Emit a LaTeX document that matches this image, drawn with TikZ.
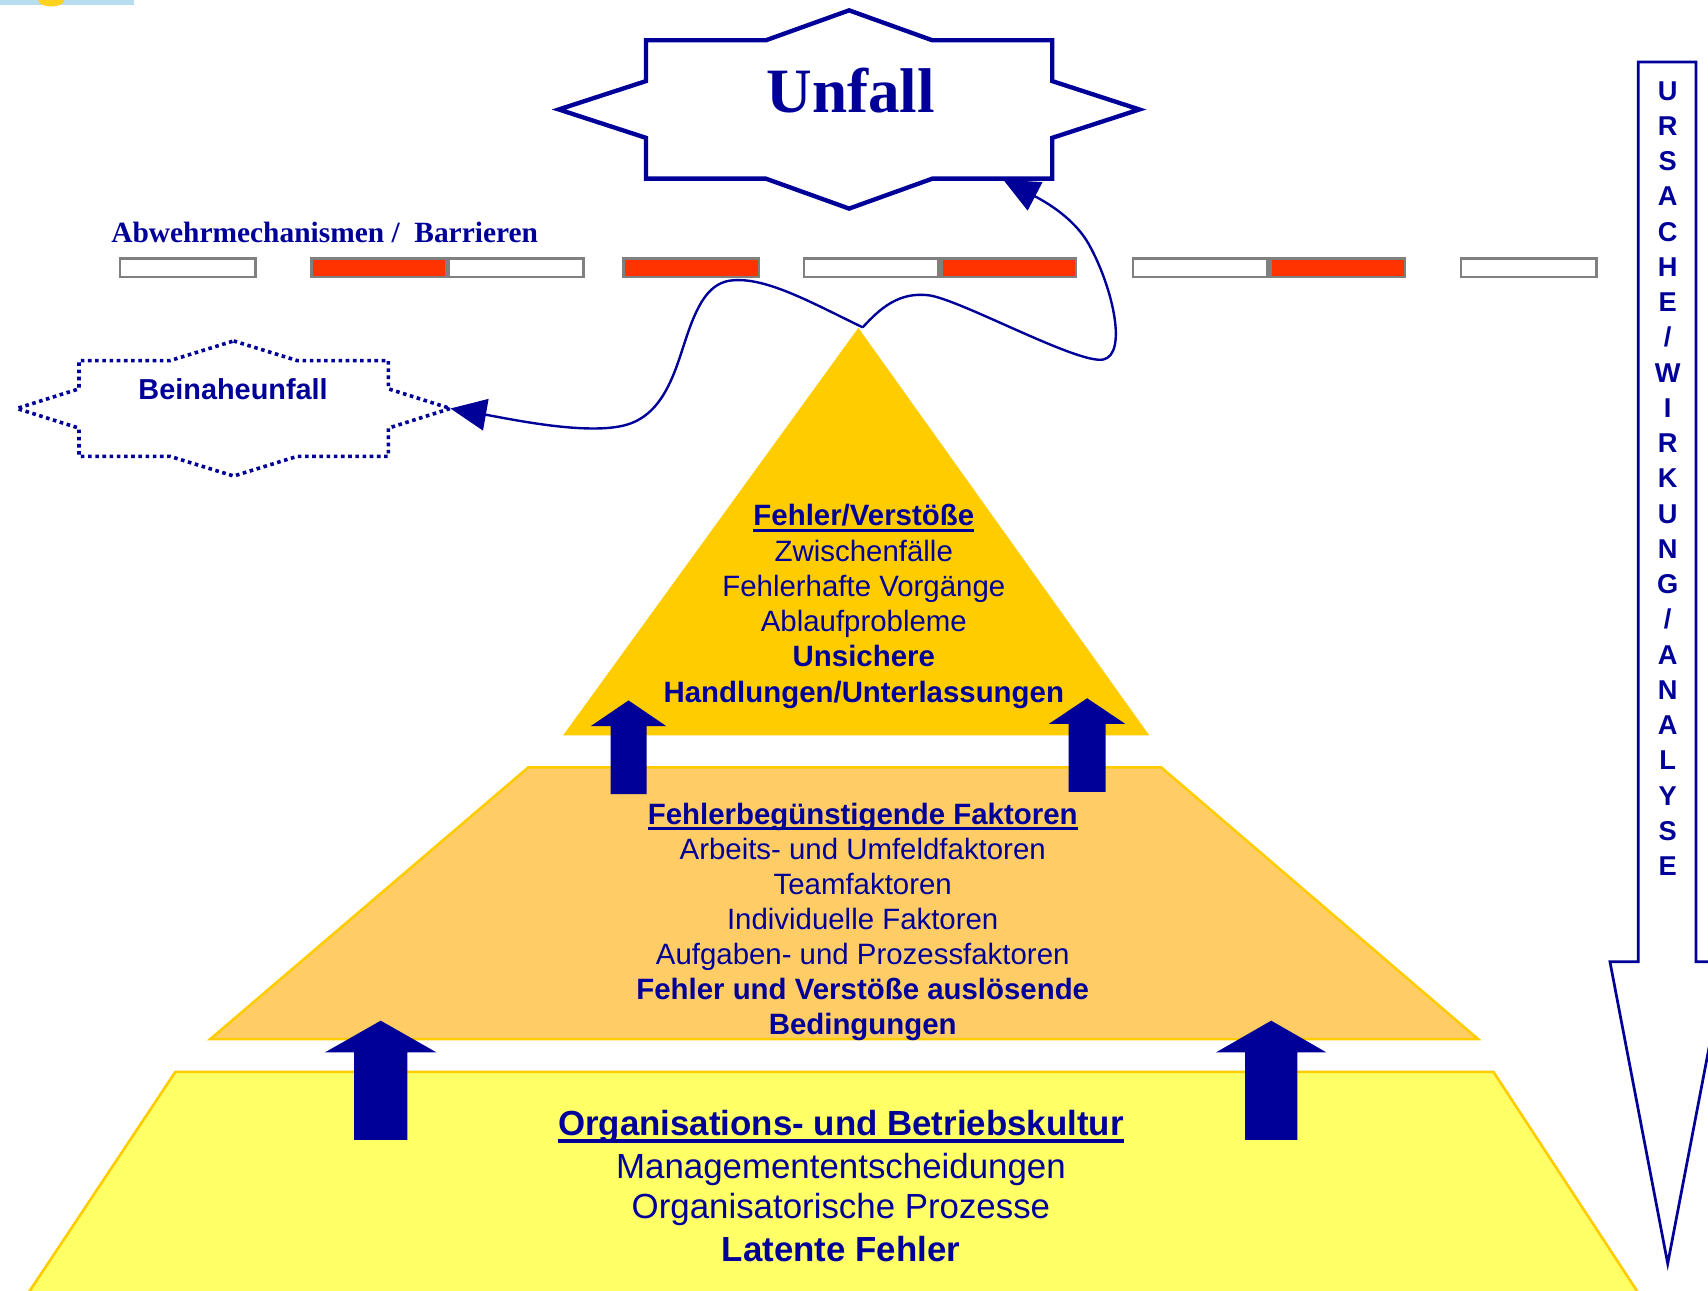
\documentclass[tikz,border=0pt]{standalone}
\usepackage{fontspec}
\setmainfont{Liberation Sans}
\newfontfamily\timesfont{Liberation Serif}
\usetikzlibrary{arrows.meta}
\definecolor{dblue}{HTML}{000099}
\definecolor{tri}{HTML}{FFCC00}
\definecolor{midfill}{HTML}{FFCC66}
\definecolor{botfill}{HTML}{FFFF66}
\definecolor{barred}{HTML}{FF3300}
\definecolor{bargray}{HTML}{808080}
\definecolor{lblue}{HTML}{B8DCF0}
\definecolor{sun}{HTML}{FFD21F}
\newsavebox\ulbox
\newcommand\ulin[3]{\sbox\ulbox{#3}\rlap{\rule[-#1]{\wd\ulbox}{#2}}\usebox\ulbox}
\newcommand\eightstar[7]{%
\draw[#1] (#2,#3-#7) -- (#2+0.41*#4,#3-#5) -- (#2+#4,#3-#5) -- (#2+#4,#3-0.41*#5) -- (#2+#6,#3) -- (#2+#4,#3+0.41*#5) -- (#2+#4,#3+#5) -- (#2+0.41*#4,#3+#5) -- (#2,#3+#7) -- (#2-0.41*#4,#3+#5) -- (#2-#4,#3+#5) -- (#2-#4,#3+0.41*#5) -- (#2-#6,#3) -- (#2-#4,#3-0.41*#5) -- (#2-#4,#3-#5) -- (#2-0.41*#4,#3-#5) -- cycle;}
\newcommand\uparr[6]{\fill[dblue] (#1,#2) -- (#1+#6,#3) -- (#1+#5,#3) -- (#1+#5,#4) -- (#1-#5,#4) -- (#1-#5,#3) -- (#1-#6,#3) -- cycle;}
\tikzset{
 txt/.style={text=dblue, inner sep=0pt, anchor=base},
 tn/.style={txt, font=\fontsize{27}{32}\selectfont},
 tb/.style={txt, font=\bfseries\fontsize{27}{32}\selectfont},
 tnl/.style={txt, font=\fontsize{32}{38}\selectfont},
 tbl/.style={txt, font=\bfseries\fontsize{32}{38}\selectfont},
 letter/.style={txt, font=\bfseries\fontsize{25}{30}\selectfont},
 barbox/.style={draw=bargray, line width=2.4pt},
 layer/.style={draw=tri, line width=2.4pt, line join=miter},
 link/.style={draw=dblue, line width=2.2pt, -{Triangle[length=33pt,width=29pt]}},
 solidstar/.style={draw=dblue, fill=white, line width=4pt, line join=miter},
 dotstar/.style={draw=dblue, line width=3.3pt, dash pattern=on 3.3pt off 3.3pt},
 bigarrow/.style={draw=dblue, fill=white, line width=2.5pt, line join=miter},
}
\begin{document}
\begin{tikzpicture}[x=1pt,y=-1pt]
\useasboundingbox (0,0) rectangle (1568,1185);
% top-left remnant
\fill[lblue] (0,0) rectangle (123,4.6);
\fill[sun] (47,0) ellipse [x radius=12, y radius=6];

% pyramid layers
\draw[layer, fill=botfill] (161,984) -- (1371,984) -- (1506,1190) -- (24,1190) -- cycle;
\draw[layer, fill=midfill] (485,704.5) -- (1066,704.5) -- (1357,954) -- (193,954) -- cycle;
\fill[tri] (788,301) -- (1055,675) -- (517,675) -- cycle;

% block arrows
\uparr{577}{643}{666.5}{729}{16.5}{34.5}
\uparr{998}{641}{664.5}{727}{17}{35}
\uparr{349.5}{937}{966}{1046.5}{24.5}{51}
\uparr{1167}{937}{966}{1046.5}{24}{50.5}

% triangle text
\node[tb] (fv) at (793,482.5) {\ulin{5.8pt}{2.8pt}{Fehler/Verstöße}};
\node[tn] (zw) at (793,515.2) {Zwischenfälle};
\node[tn] (fh) at (793,547.6) {Fehlerhafte Vorgänge};
\node[tn] (ab) at (793,580) {Ablaufprobleme};
\node[tb] (un) at (793,612.3) {Unsichere};
\node[tb] (hu) at (793,644.7) {Handlungen/Unterlassungen};

% middle text
\node[tb] (fb) at (792,756.5) {\ulin{5.8pt}{2.8pt}{Fehlerbegünstigende Faktoren}};
\node[tn] (au) at (792,788.7) {Arbeits- und Umfeldfaktoren};
\node[tn] (tf) at (792,820.9) {Teamfaktoren};
\node[tn] (if) at (792,853.1) {Individuelle Faktoren};
\node[tn] (ap) at (792,885.3) {Aufgaben- und Prozessfaktoren};
\node[tb] (fu) at (792,917.5) {Fehler und Verstöße auslösende};
\node[tb] (bd) at (792,949.7) {Bedingungen};

% bottom text
\node[tbl] (ob) at (772,1042.5) {\ulin{6.7pt}{3.4pt}{Organisations- und Betriebskultur}};
\node[tnl] (me) at (772,1081.5) {Managemententscheidungen};
\node[tnl] (op) at (772,1119) {Organisatorische Prozesse};
\node[tbl] (lf) at (772,1158) {Latente Fehler};

% barriers
\node[txt, anchor=base west, font=\timesfont\bfseries\fontsize{27}{30}\selectfont] (abw) at (102,223) {Abwehrmechanismen /\ \ Barrieren};
\foreach \a/\b/\c in {109/236/white, 285/411/barred, 411/537/white, 571/698/barred, 737/863/white, 863/989/barred, 1039/1165/white, 1165/1291/barred, 1340/1467/white}
  \draw[barbox, fill=\c] (\a+1.2,237.4) rectangle (\b-1.2,254.3);

% Unfall
\eightstar{solidstar}{779.5}{100.5}{186.5}{63.5}{266.5}{91}
\node[txt, font=\timesfont\bfseries\fontsize{58}{62}\selectfont] (unfall) at (781,103) {Unfall};

% Beinaheunfall
\eightstar{dotstar}{214.5}{375}{142}{44}{199}{62}
\node[txt, font=\bfseries\fontsize{26.5}{30}\selectfont] (bein) at (214,367) {Beinaheunfall};

% connectors
\coordinate (apex) at (792,300.5);
\coordinate (beinE) at (413.5,375);
\coordinate (unfHit) at (921,165);
\draw[link] (apex) .. controls (745,278) and (700,252) .. (668,258)
  .. controls (650,262) and (640,280) .. (630,310)
  .. controls (620,340) and (610,380) .. (575,390)
  .. controls (540,400) and (470,385) .. (beinE);
\draw[link] (apex) .. controls (808,283) and (825,268) .. (852,271)
  .. controls (880,274) and (990,335) .. (1013,330)
  .. controls (1035,325) and (1022,265) .. (1000,225)
  .. controls (988,203) and (965,188) .. (unfHit);

% analysis arrow
\draw[bigarrow] (1504,57) -- (1557,57) -- (1557,883) -- (1584,883) -- (1531,1160) -- (1478,883) -- (1504,883) -- cycle;
\foreach \ch [count=\i from 0] in {U,R,S,A,C,H,E,/,W,I,R,K,U,N,G,/,A,N,A,L,Y,S,E}
  \node[letter] (rl\i) at (1531,92+32.36*\i) {\ch};
\end{tikzpicture}
\end{document}
